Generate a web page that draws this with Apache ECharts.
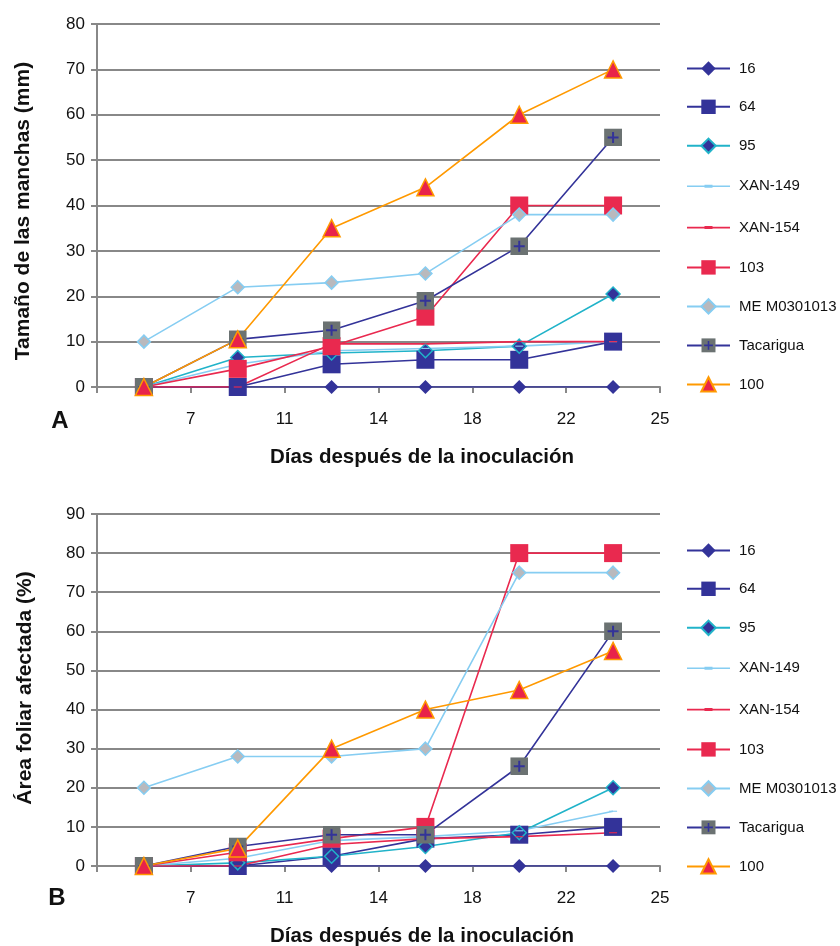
<!DOCTYPE html>
<html>
<head>
<meta charset="utf-8">
<script src="https://cdn.jsdelivr.net/npm/echarts@6/dist/echarts.min.js"></script>
<style>
html,body{margin:0;padding:0;background:#fff;}
#chart{width:840px;height:946px;}
</style>
</head>
<body>
<div id="chart"></div>
<script>
// etiquetas del eje x (en los limites de cada categoria)
var tickLabels = ['', '7', '11', '14', '18', '22', '25'];
var seriesNames = ['16', '64', '95', 'XAN-149', 'XAN-154', '103', 'ME M0301013', 'Tacarigua', '100'];

// A: tamaño de las manchas (mm)
var tamano16 = [0, 0, 0, 0, 0, 0];
var tamano64 = [0, 0, 5, 6, 6, 10];
var tamano95 = [0, 6.5, 7.5, 8, 9, 20.5];
var tamanoXAN149 = [0, 5, 8, 8.5, 9, 10];
var tamanoXAN154 = [0, 0, 9.5, 9.5, 10, 10];
var tamano103 = [0, 4, 9, 15.5, 40, 40];
var tamanoME = [10, 22, 23, 25, 38, 38];
var tamanoTacarigua = [0, 10.5, 12.5, 19, 31, 55];
var tamano100 = [0, 10.5, 35, 44, 60, 70];

// B: area foliar afectada (%)
var area16 = [0, 0, 0, 0, 0, 0];
var area64 = [0, 0, 2.5, 7, 8, 10];
var area95 = [0, 0.8, 2.5, 5, 8.5, 20];
var areaXAN149 = [0, 2, 6.5, 7.5, 9, 14];
var areaXAN154 = [0, 0, 5.5, 7, 7.5, 8.5];
var area103 = [0, 3.5, 7, 10, 80, 80];
var areaME = [20, 28, 28, 30, 75, 75];
var areaTacarigua = [0, 5, 8, 8, 25.5, 60];
var area100 = [0, 4.5, 30, 40, 45, 55];

var NAVY = '#333399', TEAL = '#21b3c9', LIGHT = '#86cdf2', RED = '#e9294f', ORANGE = '#ff9900';

var tacariguaSvg = "<svg xmlns='http://www.w3.org/2000/svg' width='18' height='18'>" +
	"<rect width='18' height='18' fill='#6b7272'/>" +
	"<path d='M9 3.5v11M3.5 9h11' stroke='#333399' stroke-width='2'/></svg>";
var tacariguaSymbol = 'image://data:image/svg+xml;charset=utf-8,' + encodeURIComponent(tacariguaSvg);
var dashSymbol = 'path://M0,0h8v3h-8z';
//icono de leyenda: linea con un guion mas grueso en el centro
var dashLegendIcon = 'path://M0,0h0.01v0.01h-0.01z M0,18h0.01v-0.01h-0.01z M0,8.2h43v1.6h-43z M17.5,7.5h8v3h-8z';

// estilo de cada serie, en el orden de seriesNames
var styles = [
	{line: NAVY, symbol: 'diamond', size: 14, fill: NAVY},
	{line: NAVY, symbol: 'rect', size: 18, fill: NAVY},
	{line: TEAL, symbol: 'diamond', size: 14, fill: NAVY, border: TEAL},
	{line: LIGHT, symbol: dashSymbol, size: [8, 3], fill: LIGHT, icon: dashLegendIcon},
	{line: RED, symbol: dashSymbol, size: [8, 3], fill: RED, icon: dashLegendIcon},
	{line: RED, symbol: 'rect', size: 18, fill: RED},
	{line: LIGHT, symbol: 'diamond', size: 13, fill: '#b9b9bd', border: LIGHT},
	{line: NAVY, symbol: tacariguaSymbol, size: 18, fill: '#6b7272'},
	{line: ORANGE, symbol: 'triangle', size: 17, fill: '#e8234a', border: ORANGE}
];

var dataA = [tamano16, tamano64, tamano95, tamanoXAN149, tamanoXAN154, tamano103, tamanoME, tamanoTacarigua, tamano100];
var dataB = [area16, area64, area95, areaXAN149, areaXAN154, area103, areaME, areaTacarigua, area100];

var FONT = '"Liberation Sans", Arial, sans-serif';

function buildSeries(values, gridIdx)
{
	var list = [];
	for (var i = 0; i < seriesNames.length; i++)
	{
		var st = styles[i];
		var pts = [];
		for (var j = 0; j < values[i].length; j++)
		{
			//cada punto en el centro de su categoria
			pts.push([j + 0.5, values[i][j]]);
		}
		list.push({
			name: seriesNames[i],
			type: 'line',
			xAxisIndex: gridIdx,
			yAxisIndex: gridIdx,
			data: pts,
			symbol: st.symbol,
			symbolSize: st.size,
			symbolKeepAspect: true,
			showAllSymbol: true,
			animation: false,
			lineStyle: {color: st.line, width: 1.6},
			itemStyle: {color: st.fill, borderColor: st.border || st.fill, borderWidth: st.border ? 1.5 : 0},
			emphasis: {disabled: true}
		});
	}
	return list;
}

function xAxisFor(gridIdx)
{
	return {
		type: 'value', gridIndex: gridIdx, min: 0, max: 6, interval: 1,
		axisLine: {show: true, onZero: false, lineStyle: {color: '#888', width: 2}},
		axisTick: {show: true, length: 6, lineStyle: {color: '#888', width: 2}},
		splitLine: {show: false},
		axisLabel: {
			margin: 24, fontSize: 17, color: '#111', fontFamily: FONT,
			formatter: function (v) { return tickLabels[Math.round(v)] || ''; }
		}
	};
}

function yAxisFor(gridIdx, max)
{
	return {
		type: 'value', gridIndex: gridIdx, min: 0, max: max, interval: 10,
		axisLine: {show: true, lineStyle: {color: '#888', width: 2}},
		axisTick: {show: true, length: 6, lineStyle: {color: '#888', width: 2}},
		splitLine: {show: true, lineStyle: {color: '#888', width: 2}},
		axisLabel: {margin: 12, fontSize: 17, color: '#111', fontFamily: FONT}
	};
}

function legendFor(top)
{
	var items = [];
	for (var i = 0; i < seriesNames.length; i++)
	{
		var it = {name: seriesNames[i]};
		if (styles[i].icon)
		{
			it.icon = styles[i].icon;
		}
		items.push(it);
	}
	return {
		orient: 'vertical', left: 681, top: top, padding: 5,
		itemWidth: 43, itemHeight: 18, itemGap: 23.3,
		selectedMode: false,
		textStyle: {fontSize: 15, color: '#111', fontFamily: FONT, padding: [0, 0, 0, 4]},
		data: items
	};
}

function textEl(str, x, y, size, rot)
{
	return {
		type: 'text', x: x, y: y, rotation: rot || 0,
		style: {text: str, fontSize: size, fontWeight: 'bold', fontFamily: FONT, fill: '#111', align: 'center', verticalAlign: 'middle'}
	};
}

var chart = echarts.init(document.getElementById('chart'), null, {renderer: 'canvas'});
var option = {
	backgroundColor: '#fff',
	animation: false,
	grid: [
		{left: 97, top: 24, width: 563, height: 363},
		{left: 97, top: 514, width: 563, height: 352}
	],
	xAxis: [xAxisFor(0), xAxisFor(1)],
	yAxis: [yAxisFor(0, 80), yAxisFor(1, 90)],
	legend: [legendFor(56), legendFor(538)],
	series: buildSeries(dataA, 0).concat(buildSeries(dataB, 1)),
	graphic: [
		textEl('Tamaño de las manchas (mm)', 23, 211, 21, Math.PI / 2),
		textEl('Área foliar afectada (%)', 25, 688, 21, Math.PI / 2),
		textEl('Días después de la inoculación', 422, 457, 20.5),
		textEl('Días después de la inoculación', 422, 936, 20.5),
		textEl('A', 60, 421, 24),
		textEl('B', 57, 898, 24)
	]
};
chart.setOption(option);
</script>
</body>
</html>
